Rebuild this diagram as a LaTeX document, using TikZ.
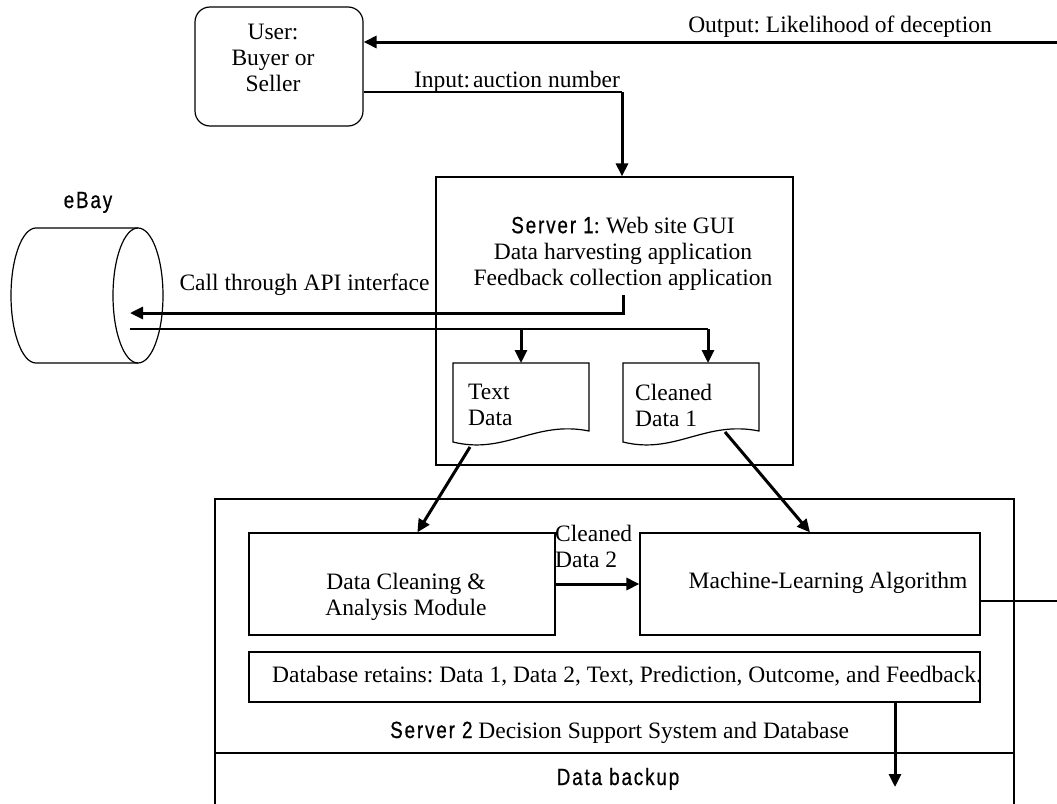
\documentclass[tikz,border=0pt]{standalone}
\usepackage{fontspec}
\setmainfont{Liberation Serif}
\newfontfamily\narrowsans[FakeStretch=0.8,LetterSpace=8,FakeBold=0.6]{Liberation Sans}
\usetikzlibrary{arrows.meta,calc}
\frenchspacing

\begin{document}
\begin{tikzpicture}[x=1pt,y=-1pt,
  every node/.style={inner sep=0pt, font=\fontsize{23.5}{26}\selectfont},
  box/.style={draw, line width=1.2pt, rectangle, inner sep=0pt},
  ctr/.style={align=center},
  lft/.style={align=left},
  flow/.style={line width=3pt, -{Triangle[length=13pt,width=12pt]}},
  wire/.style={line width=1.2pt},
]
\path[use as bounding box] (0,0) rectangle (1057,803);

% user
\node[box, rounded corners=15pt, minimum width=168pt, minimum height=119pt] (user) at (279,66.5) {};
\node[ctr] (usertxt) at (273,58) {User:\\Buyer or\\Seller};

% output to the user
\coordinate (outR) at (1057,42);
\draw[flow] (outR) -- (outR -| user.east);
\node[anchor=base] (outlbl) at (840,32) {Output: Likelihood of deception};

% server 1
\node[box, minimum width=357pt, minimum height=288pt] (s1) at (614.5,321) {};
\node[ctr] (s1txt) at (623,253.5) {{\narrowsans Server 1}: Web site GUI\\Data harvesting application\\Feedback collection application};

% input from the user
\coordinate (inbend) at (622,92);
\draw[wire] (inbend -| user.east) -- (inbend);
\draw[flow] (inbend) -- (inbend |- s1.north);
\node[anchor=base] (inlbl) at (517,87) {Input:\hspace{0.12em}auction number};

% eBay cylinder
\draw[wire] (138,228) -- (36,228) arc[start angle=270, end angle=90, x radius=25, y radius=67.5] -- (138,363);
\draw[wire] (138,295.5) ellipse [x radius=25, y radius=67.5];
\node[anchor=base] (ebtxt) at (88,208) {\narrowsans eBay};
\coordinate (ebin) at (130,313);
\coordinate (ebout) at (130,329);

% API call and returned data
\coordinate (apistart) at (623,295);
\draw[flow] (apistart) |- (ebin);
\node[anchor=base] (apilbl) at (304.5,290) {Call through API interface};
\coordinate (tdtop) at (521,363);
\coordinate (cdtop) at (708,363);
\coordinate (split) at (708,329);
\draw[wire] (ebout) -- (split);
\draw[flow] (split -| tdtop) -- (tdtop);
\draw[flow] (split) -- (cdtop);

% document shapes
\draw[wire] (453,442) -- (453,363) -- (589,363) -- (589,431) .. controls (535,420) and (505,455) .. cycle;
\draw[wire] (623,442) -- (623,363) -- (759,363) -- (759,431) .. controls (705,420) and (675,455) .. cycle;
\node[lft, anchor=west] (tdtxt) at (468,405) {Text\\Data};
\node[lft, anchor=west] (cdtxt) at (635,405) {Cleaned\\Data 1};
\coordinate (tdbot) at (470,447);
\coordinate (cdbot) at (725,432);

% server 2
\node[box, minimum width=799pt, minimum height=311pt] (s2) at (614.5,654.5) {};
\coordinate (sep) at (0,753);
\draw[wire] (s2.west |- sep) -- (s2.east |- sep);
\node[box, minimum width=306pt, minimum height=102pt] (dc) at (402,584) {};
\node[ctr] (dctxt) at (406,597) {Data Cleaning \&\\Analysis Module};
\node[box, minimum width=340pt, minimum height=102pt] (ml) at (810,584) {};
\node[anchor=base] (mltxt) at (828,588) {Machine-Learning Algorithm};
\node[box, minimum width=731pt, minimum height=50pt] (db) at (614.5,677) {};
\node[anchor=base west] (dbtxt) at (272,682) {Database retains: Data 1, Data 2, Text, Prediction, Outcome, and Feedback.};
\node[anchor=base west] (s2txt) at (390,738) {{\narrowsans Server 2} Decision Support System and Database};
\node[anchor=base] (bktxt) at (618,785) {\narrowsans Data backup};
\node[lft, anchor=west] (cd2txt) at (555,546) {Cleaned\\Data 2};

% data flow inside
\draw[flow] (tdbot) -- ($(dc.north west)!0.55!(dc.north east)$);
\draw[flow] (cdbot) -- (ml.north);
\draw[flow] (dc) -- (ml);
\coordinate (mlout) at (980,601);
\coordinate (rightedge) at (1057,601);
\draw[wire] (mlout) -- (rightedge);
\coordinate (dbout) at (895,702);
\coordinate (bkin) at (895,787);
\draw[flow] (dbout) -- (bkin);
\end{tikzpicture}
\end{document}
